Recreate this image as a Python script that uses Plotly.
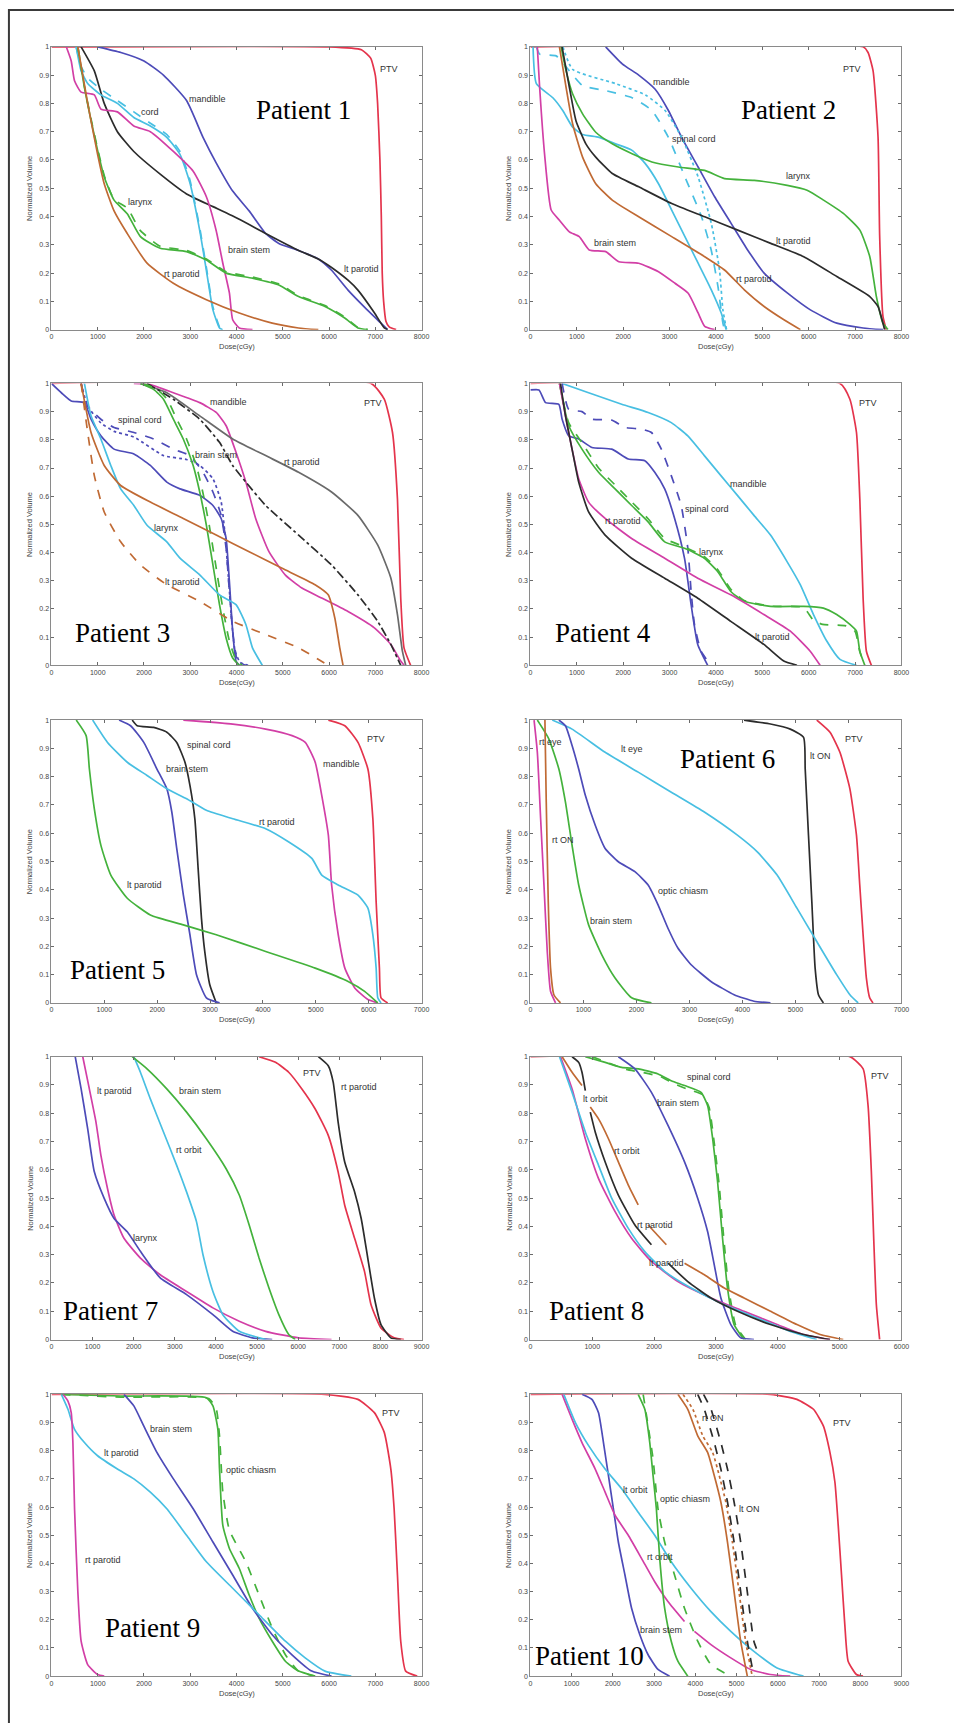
import plotly.graph_objects as go

# ---------------------------------------------------------------------------
# Dose-volume histograms: (dose in cGy, normalized volume) per structure
# ---------------------------------------------------------------------------

# Patient 1
P1_PTV = ([0, 6000, 6700, 6900, 7000, 7050, 7100, 7130, 7150, 7180, 7230, 7300, 7450],
          [1, 1, 0.99, 0.96, 0.9, 0.8, 0.6, 0.4, 0.2, 0.1, 0.03, 0.01, 0])
P1_MANDIBLE = ([1000, 1500, 2000, 2420, 2920, 3276, 3560, 3917, 4273, 4630, 4915, 5342, 5769, 6054, 6410, 6766, 7123, 7265],
               [1, 0.98, 0.95, 0.9, 0.81, 0.68, 0.59, 0.49, 0.42, 0.34, 0.305, 0.28, 0.25, 0.21, 0.14, 0.08, 0.023, 0])
P1_LT_PAROTID = ([641, 926, 1140, 1425, 1780, 2350, 2920, 3490, 4060, 4630, 5342, 5769, 6054, 6410, 6624, 6980, 7194, 7265],
                 [1, 0.915, 0.80, 0.70, 0.63, 0.55, 0.48, 0.435, 0.39, 0.34, 0.28, 0.25, 0.22, 0.175, 0.14, 0.06, 0.006, 0])
P1_CORD_A = ([534, 641, 783, 1068, 1425, 1780, 2137, 2493, 2778, 2991, 3205, 3348, 3490, 3632, 3700],
             [1, 0.915, 0.87, 0.83, 0.80, 0.75, 0.72, 0.68, 0.62, 0.52, 0.35, 0.21, 0.07, 0.006, 0])
P1_CORD_B = ([534, 641, 783, 1068, 1425, 1780, 2137, 2493, 2778, 2991, 3205, 3348, 3490, 3632, 3700],
             [1, 0.93, 0.89, 0.85, 0.81, 0.77, 0.73, 0.69, 0.63, 0.53, 0.36, 0.22, 0.08, 0.01, 0])
P1_BRAIN_STEM = ([320, 427, 498, 641, 926, 1068, 1425, 1780, 2137, 2635, 3063, 3348, 3561, 3704, 3846, 3917, 4060, 4345],
                 [1, 0.95, 0.88, 0.84, 0.83, 0.78, 0.77, 0.72, 0.70, 0.63, 0.56, 0.47, 0.35, 0.235, 0.13, 0.035, 0.006, 0])
P1_LARYNX_A = ([570, 712, 855, 997, 1140, 1353, 1638, 1923, 2350, 2920, 3348, 3775, 4345, 4915, 5342, 5912, 6339, 6624, 6838],
               [1, 0.857, 0.74, 0.634, 0.54, 0.458, 0.41, 0.329, 0.288, 0.276, 0.246, 0.2, 0.182, 0.158, 0.117, 0.082, 0.041, 0.006, 0])
P1_LARYNX_B = ([570, 712, 855, 997, 1140, 1353, 1638, 1923, 2350, 2920, 3348, 3775, 4345, 4915, 5342, 5912, 6339, 6624, 6838],
               [1, 0.86, 0.745, 0.64, 0.545, 0.46, 0.43, 0.35, 0.295, 0.28, 0.25, 0.205, 0.186, 0.162, 0.12, 0.085, 0.045, 0.008, 0])
P1_RT_PAROTID = ([570, 783, 997, 1140, 1353, 1638, 2066, 2635, 3348, 4060, 4772, 5342, 5769],
                 [1, 0.8, 0.62, 0.516, 0.42, 0.34, 0.235, 0.164, 0.106, 0.059, 0.023, 0.006, 0])

# Patient 2
P2_PTV = ([0, 7174, 7280, 7388, 7495, 7530, 7601, 7673],
          [1, 1, 0.98, 0.915, 0.68, 0.33, 0.047, 0])
P2_MANDIBLE = ([1623, 1979, 2335, 2690, 2975, 3260, 3616, 3972, 4327, 4683, 5039, 5537, 6036, 6605, 7174, 7601],
               [1, 0.94, 0.9, 0.85, 0.775, 0.68, 0.575, 0.47, 0.376, 0.282, 0.2, 0.13, 0.07, 0.023, 0.006, 0])
P2_CORD_A = ([57, 128, 484, 697, 911, 1125, 1480, 1836, 2192, 2477, 2762, 3046, 3331, 3616, 3900, 4114, 4221],
             [1, 0.87, 0.82, 0.775, 0.716, 0.69, 0.68, 0.657, 0.634, 0.587, 0.516, 0.423, 0.329, 0.235, 0.141, 0.059, 0])
P2_CORD_B = ([128, 199, 555, 840, 1125, 1623, 2192, 2619, 2975, 3331, 3687, 3900, 4043, 4150, 4185],
             [1, 0.974, 0.968, 0.915, 0.863, 0.845, 0.82, 0.775, 0.68, 0.54, 0.4, 0.28, 0.153, 0.023, 0])
P2_CORD_C = ([700, 911, 1836, 2477, 2904, 3260, 3616, 3900, 4078, 4150, 4230],
             [1, 0.92, 0.87, 0.83, 0.775, 0.68, 0.54, 0.376, 0.21, 0.07, 0])
P2_LARYNX = ([662, 769, 911, 1125, 1409, 1765, 2192, 2619, 3189, 3758, 4185, 4826, 5537, 5965, 6320, 6747, 7103, 7317, 7459, 7601, 7708],
             [1, 0.915, 0.833, 0.763, 0.698, 0.657, 0.622, 0.593, 0.575, 0.563, 0.534, 0.528, 0.51, 0.493, 0.458, 0.411, 0.352, 0.258, 0.117, 0.023, 0])
P2_LT_PAROTID = ([683, 840, 982, 1196, 1409, 1765, 2335, 3046, 3758, 4470, 5182, 5893, 6605, 7317, 7495, 7601, 7637],
                 [1, 0.857, 0.739, 0.657, 0.61, 0.552, 0.505, 0.446, 0.399, 0.352, 0.305, 0.258, 0.188, 0.117, 0.082, 0.023, 0])
P2_RT_PAROTID = ([626, 769, 911, 1125, 1409, 1765, 2335, 3046, 3758, 4185, 4612, 5039, 5466, 5822],
                 [1, 0.857, 0.727, 0.61, 0.516, 0.458, 0.399, 0.329, 0.258, 0.211, 0.141, 0.082, 0.035, 0])
P2_BRAIN_STEM = ([149, 199, 306, 448, 626, 840, 1053, 1267, 1623, 1907, 2335, 2762, 3117, 3402, 3616, 3758, 3972],
                 [1, 0.857, 0.62, 0.423, 0.387, 0.346, 0.329, 0.282, 0.276, 0.24, 0.235, 0.205, 0.164, 0.129, 0.059, 0.012, 0])

# Patient 3
P3_PTV = ([0, 6909, 7194, 7372, 7479, 7550, 7621, 7764],
          [1, 1, 0.944, 0.826, 0.59, 0.238, 0.062, 0])
P3_MANDIBLE = ([1781, 2137, 2635, 3205, 3561, 3775, 3989, 4202, 4416, 4701, 5057, 5413, 5840, 6410, 6980, 7336, 7550, 7621],
               [1, 0.996, 0.967, 0.932, 0.897, 0.85, 0.756, 0.65, 0.52, 0.403, 0.32, 0.274, 0.239, 0.191, 0.133, 0.074, 0.015, 0])
P3_RT_PAROTID_A = ([1923, 2493, 3205, 3917, 4630, 5342, 6054, 6624, 7051, 7336, 7479, 7586, 7657],
                   [1, 0.967, 0.885, 0.803, 0.744, 0.685, 0.615, 0.532, 0.427, 0.31, 0.18, 0.05, 0])
P3_RT_PAROTID_B = ([2066, 2635, 3205, 3632, 3917, 4202, 4630, 5342, 6054, 6624, 7051, 7336, 7550],
                   [1, 0.944, 0.873, 0.791, 0.709, 0.65, 0.567, 0.462, 0.356, 0.25, 0.156, 0.074, 0])
P3_CORD_A = ([641, 783, 1068, 1353, 1781, 2208, 2635, 2991, 3276, 3490, 3668, 3775, 3846, 3917, 4024, 4202],
             [1, 0.92, 0.873, 0.844, 0.826, 0.803, 0.767, 0.744, 0.685, 0.615, 0.532, 0.415, 0.262, 0.121, 0.015, 0])
P3_CORD_B = ([641, 783, 1068, 1353, 1781, 2422, 2920, 3205, 3490, 3668, 3760, 3830, 3900, 3970, 4080, 4250],
             [1, 0.92, 0.86, 0.83, 0.81, 0.744, 0.73, 0.709, 0.662, 0.58, 0.45, 0.3, 0.15, 0.05, 0.01, 0])
P3_CORD_C = ([0, 214, 427, 712, 855, 1068, 1353, 1781, 2137, 2493, 2778, 3205, 3490, 3668, 3775, 3846, 3917, 3989, 4060],
             [1, 0.967, 0.938, 0.932, 0.873, 0.814, 0.767, 0.75, 0.709, 0.65, 0.626, 0.603, 0.567, 0.521, 0.45, 0.297, 0.121, 0.015, 0])
P3_BRAIN_STEM_A = ([1923, 2208, 2422, 2635, 2849, 3063, 3205, 3348, 3490, 3632, 3775, 3917, 4060],
                   [1, 0.979, 0.944, 0.873, 0.803, 0.709, 0.615, 0.497, 0.356, 0.215, 0.097, 0.026, 0])
P3_BRAIN_STEM_B = ([1990, 2280, 2500, 2710, 2920, 3130, 3270, 3410, 3550, 3690, 3830, 3970, 4120],
                   [1, 0.979, 0.944, 0.873, 0.803, 0.709, 0.615, 0.497, 0.356, 0.215, 0.097, 0.026, 0])
P3_LARYNX = ([712, 855, 1068, 1282, 1496, 1781, 2066, 2493, 2778, 3205, 3632, 3989, 4202, 4345, 4558],
             [1, 0.885, 0.803, 0.709, 0.626, 0.567, 0.497, 0.438, 0.38, 0.321, 0.25, 0.215, 0.145, 0.062, 0])
P3_LT_PAROTID_A = ([641, 783, 926, 1140, 1496, 1923, 2493, 3205, 3917, 4630, 5342, 5983],
                   [1, 0.826, 0.673, 0.544, 0.438, 0.356, 0.286, 0.227, 0.156, 0.109, 0.062, 0])
P3_LT_PAROTID_B = ([641, 855, 1140, 1496, 2137, 2849, 3561, 4273, 4986, 5698, 5983, 6125, 6232, 6303],
                   [1, 0.826, 0.709, 0.638, 0.579, 0.521, 0.462, 0.403, 0.344, 0.286, 0.25, 0.168, 0.062, 0])

# Patient 4
P4_PTV = ([0, 6674, 6888, 7030, 7102, 7173, 7244, 7351],
          [1, 1, 0.944, 0.826, 0.59, 0.238, 0.05, 0])
P4_MANDIBLE = ([684, 1255, 1968, 2538, 3037, 3394, 3750, 4107, 4463, 4820, 5176, 5533, 5818, 6103, 6389, 6674, 7030],
               [1, 0.967, 0.926, 0.897, 0.861, 0.814, 0.744, 0.673, 0.603, 0.532, 0.462, 0.368, 0.286, 0.18, 0.086, 0.021, 0])
P4_CORD_A = ([684, 827, 1112, 1326, 1754, 2039, 2396, 2610, 2823, 3037, 3251, 3394, 3465, 3537, 3679, 3893],
             [1, 0.908, 0.9, 0.873, 0.87, 0.844, 0.838, 0.826, 0.767, 0.673, 0.567, 0.415, 0.262, 0.145, 0.05, 0])
P4_CORD_B = ([0, 185, 328, 613, 684, 827, 1041, 1326, 1754, 2111, 2467, 2681, 2895, 3109, 3322, 3465, 3608, 3822],
             [0.977, 0.977, 0.932, 0.926, 0.873, 0.814, 0.803, 0.773, 0.767, 0.732, 0.726, 0.685, 0.626, 0.521, 0.38, 0.215, 0.074, 0])
P4_LARYNX_A = ([627, 827, 1112, 1469, 1825, 2182, 2538, 2895, 3322, 3750, 4036, 4321, 4606, 5176, 5890, 6317, 6603, 6888, 7030, 7102, 7209],
               [1, 0.85, 0.767, 0.685, 0.626, 0.567, 0.509, 0.438, 0.415, 0.38, 0.333, 0.262, 0.227, 0.209, 0.209, 0.203, 0.18, 0.145, 0.121, 0.05, 0])
P4_LARYNX_B = ([627, 827, 1112, 1469, 1825, 2182, 2538, 2895, 3322, 3750, 4036, 4321, 4606, 5176, 5890, 6100, 6300, 6800, 7000, 7100, 7200],
               [1, 0.86, 0.79, 0.7, 0.64, 0.58, 0.52, 0.45, 0.42, 0.385, 0.34, 0.27, 0.23, 0.21, 0.205, 0.16, 0.145, 0.14, 0.12, 0.05, 0])
P4_RT_PAROTID = ([627, 756, 898, 1041, 1255, 1611, 2182, 2895, 3608, 4321, 5034, 5604, 6032, 6246],
                 [1, 0.885, 0.767, 0.662, 0.579, 0.521, 0.45, 0.38, 0.309, 0.25, 0.18, 0.121, 0.05, 0])
P4_LT_PAROTID = ([649, 756, 898, 1041, 1255, 1611, 2182, 2895, 3608, 4321, 5034, 5462, 5747],
                 [1, 0.885, 0.767, 0.65, 0.544, 0.462, 0.38, 0.309, 0.238, 0.156, 0.074, 0.015, 0])

# Patient 5
P5_PTV = ([5237, 5549, 5798, 5985, 6079, 6141, 6203, 6234, 6359],
          [1, 0.98, 0.921, 0.827, 0.651, 0.358, 0.123, 0.018, 0])
P5_MANDIBLE = ([2494, 3429, 4052, 4551, 4800, 4988, 5112, 5237, 5299, 5424, 5549, 5736, 5985, 6172],
               [1, 0.986, 0.968, 0.945, 0.921, 0.851, 0.734, 0.593, 0.417, 0.241, 0.123, 0.053, 0.012, 0])
P5_SPINAL_CORD = ([1527, 1621, 1933, 2182, 2369, 2525, 2619, 2712, 2774, 2837, 2899, 2993, 3117],
                  [1, 0.98, 0.974, 0.957, 0.921, 0.851, 0.769, 0.651, 0.475, 0.299, 0.182, 0.065, 0])
P5_BRAIN_STEM = ([1278, 1496, 1746, 1995, 2182, 2276, 2369, 2494, 2619, 2743, 2930, 3180],
                 [1, 0.98, 0.921, 0.827, 0.757, 0.675, 0.546, 0.382, 0.241, 0.1, 0.018, 0])
P5_RT_PAROTID = ([779, 1060, 1434, 1808, 2182, 2556, 2930, 3429, 4052, 4489, 4925, 5112, 5424, 5798, 5985, 6079, 6141, 6172, 6234],
                 [1, 0.921, 0.851, 0.804, 0.757, 0.722, 0.681, 0.651, 0.616, 0.569, 0.511, 0.452, 0.417, 0.381, 0.335, 0.241, 0.123, 0.018, 0])
P5_LT_PAROTID = ([468, 655, 717, 810, 935, 1122, 1434, 1870, 2494, 3117, 4052, 4988, 5611, 5923, 6172],
                 [1, 0.945, 0.827, 0.687, 0.557, 0.452, 0.37, 0.311, 0.276, 0.241, 0.182, 0.123, 0.076, 0.041, 0])

# Patient 6
P6_PTV = ([5402, 5652, 5839, 6027, 6151, 6213, 6276, 6338, 6401, 6463],
          [1, 0.957, 0.886, 0.757, 0.593, 0.417, 0.241, 0.088, 0.018, 0])
P6_LT_ON = ([4030, 4529, 4903, 5153, 5184, 5246, 5309, 5371, 5434, 5527],
            [1, 0.986, 0.968, 0.939, 0.827, 0.593, 0.358, 0.123, 0.029, 0])
P6_LT_EYE = ([412, 786, 1410, 2034, 2658, 3281, 3905, 4280, 4654, 5028, 5402, 5777, 6027, 6183],
             [1, 0.968, 0.886, 0.816, 0.745, 0.675, 0.593, 0.534, 0.452, 0.335, 0.217, 0.1, 0.029, 0])
P6_OPTIC_CHIASM = ([537, 661, 786, 911, 1036, 1223, 1410, 1659, 1971, 2221, 2408, 2595, 2782, 3032, 3406, 3843, 4217, 4529],
                   [1, 0.98, 0.91, 0.827, 0.734, 0.628, 0.546, 0.499, 0.464, 0.417, 0.347, 0.264, 0.194, 0.135, 0.076, 0.029, 0.006, 0])
P6_BRAIN_STEM = ([131, 349, 537, 661, 786, 911, 1098, 1347, 1597, 1909, 2283],
                 [1, 0.933, 0.827, 0.71, 0.557, 0.417, 0.276, 0.17, 0.088, 0.018, 0])
P6_RT_ON = ([274, 299, 337, 380, 443, 568],
            [1, 0.71, 0.358, 0.123, 0.029, 0])
P6_RT_EYE = ([69, 131, 193, 256, 318, 380, 474],
             [1, 0.886, 0.651, 0.417, 0.182, 0.041, 0])

# Patient 7
P7_LT_PAROTID = ([761, 921, 1082, 1202, 1362, 1522, 1763, 2163, 2644, 3285, 3926, 4567, 5208, 6010, 6811],
                 [1, 0.886, 0.769, 0.651, 0.534, 0.44, 0.358, 0.288, 0.229, 0.17, 0.112, 0.065, 0.029, 0.006, 0])
P7_LARYNX = ([577, 721, 881, 1042, 1282, 1522, 1843, 2163, 2644, 3285, 3926, 4407, 4888, 5369],
             [1, 0.886, 0.745, 0.593, 0.499, 0.428, 0.381, 0.312, 0.218, 0.159, 0.088, 0.029, 0.006, 0])
P7_RT_ORBIT = ([2003, 2163, 2404, 2724, 3045, 3285, 3526, 3686, 3926, 4167, 4567, 5208],
               [1, 0.945, 0.851, 0.734, 0.616, 0.522, 0.417, 0.299, 0.17, 0.088, 0.029, 0])
P7_BRAIN_STEM = ([1963, 2324, 2804, 3285, 3766, 4247, 4567, 4808, 5048, 5289, 5529, 5769, 5929],
                 [1, 0.957, 0.886, 0.804, 0.71, 0.604, 0.511, 0.405, 0.288, 0.182, 0.088, 0.018, 0])
P7_PTV = ([5048, 5449, 5769, 6090, 6410, 6731, 6971, 7131, 7372, 7612, 7772, 8013, 8333, 8574],
          [1, 0.98, 0.945, 0.886, 0.816, 0.722, 0.593, 0.475, 0.358, 0.241, 0.123, 0.041, 0.006, 0])
P7_RT_PAROTID = ([6490, 6731, 6851, 6971, 7131, 7372, 7532, 7692, 7853, 8013, 8253, 8494],
                 [1, 0.968, 0.91, 0.769, 0.628, 0.522, 0.428, 0.288, 0.147, 0.053, 0.006, 0])

# Patient 8 (gaps where the curves pass under their labels)
P8_PTV = ([0, 5166, 5380, 5460, 5513, 5551, 5594, 5647],
          [1, 1, 0.957, 0.827, 0.593, 0.358, 0.123, 0])
P8_SPINAL_CORD_A = ([888, 1209, 1476, 1743, 2064, 2278, 2492, 2759, 2866, 2947, 3027, 3107, 3187, 3294, 3454],
                    [1, 0.98, 0.962, 0.957, 0.939, 0.915, 0.898, 0.874, 0.827, 0.71, 0.557, 0.358, 0.182, 0.053, 0])
P8_SPINAL_CORD_B = ([1000, 1300, 1550, 1800, 2100, 2320, 2540, 2790, 2890, 2970, 3050, 3130, 3210, 3320, 3480],
                    [1, 0.975, 0.955, 0.945, 0.93, 0.905, 0.885, 0.865, 0.82, 0.70, 0.55, 0.35, 0.175, 0.05, 0])
P8_BRAIN_STEM = ([1422, 1690, 1957, 2225, 2492, 2706, 2866, 2973, 3080, 3241, 3401, 3615],
                 [1, 0.957, 0.874, 0.757, 0.628, 0.499, 0.381, 0.264, 0.147, 0.053, 0.006, 0])
P8_LT_ORBIT = ([674, 781, 834, 888, None, 968, 1048, 1209, 1422, 1690, 1957, None, 2225, 2545, 2920, 3348, 3882, 4417, 4845],
               [1, 0.98, 0.945, 0.88, None, 0.804, 0.734, 0.628, 0.511, 0.405, 0.335, None, 0.27, 0.205, 0.147, 0.1, 0.053, 0.018, 0])
P8_RT_ORBIT = ([513, 674, 834, None, 968, 1102, 1262, 1422, 1583, 1743, None, 1904, 2198, None, 2492, 2813, 3134, 3455, 3882, 4310, 4684, 5059],
               [1, 0.945, 0.898, None, 0.822, 0.78, 0.71, 0.628, 0.546, 0.476, None, 0.405, 0.335, None, 0.27, 0.229, 0.182, 0.147, 0.1, 0.053, 0.018, 0])
P8_RT_PAROTID = ([487, 674, 888, 1102, 1369, 1636, 1957, 2385, 2920, 3455, 3989, 4417, 4845],
                 [1, 0.886, 0.71, 0.569, 0.452, 0.358, 0.276, 0.205, 0.147, 0.1, 0.053, 0.018, 0])
P8_LT_PAROTID = ([471, 674, 888, 1102, 1316, 1583, 1850, 2171, 2599, 3134, 3668, 4203, 4631],
                 [1, 0.874, 0.734, 0.616, 0.499, 0.393, 0.311, 0.241, 0.182, 0.123, 0.076, 0.029, 0])

# Patient 9
P9_PTV = ([0, 5912, 6624, 6980, 7194, 7336, 7407, 7479, 7550, 7657, 7906],
          [1, 1, 0.982, 0.935, 0.865, 0.735, 0.594, 0.359, 0.124, 0.018, 0])
P9_OPTIC_CHIASM_A = ([214, 1500, 3348, 3490, 3597, 3632, 3704, 3846, 4060, 4273, 4487, 4772, 5057, 5342, 5698],
                     [1, 0.994, 0.988, 0.959, 0.876, 0.735, 0.535, 0.453, 0.382, 0.288, 0.206, 0.124, 0.053, 0.018, 0])
P9_OPTIC_CHIASM_B = ([214, 1500, 3400, 3560, 3632, 3704, 3846, 4202, 4487, 4772, 5057, 5342, 5698],
                     [1, 0.99, 0.985, 0.95, 0.853, 0.653, 0.518, 0.406, 0.288, 0.171, 0.076, 0.018, 0])
P9_BRAIN_STEM = ([1567, 1781, 1994, 2279, 2635, 3063, 3490, 3917, 4345, 4772, 5199, 5627, 6054],
                 [1, 0.959, 0.888, 0.794, 0.7, 0.594, 0.476, 0.359, 0.241, 0.147, 0.076, 0.018, 0])
P9_LT_PAROTID = ([214, 356, 499, 712, 997, 1425, 1781, 2137, 2493, 2920, 3348, 3917, 4487, 5057, 5484, 5912, 6481],
                 [1, 0.947, 0.876, 0.829, 0.782, 0.735, 0.7, 0.653, 0.594, 0.5, 0.406, 0.312, 0.218, 0.124, 0.065, 0.018, 0])
P9_RT_PAROTID = ([249, 356, 427, 463, 499, 570, 641, 783, 997, 1140],
                 [1, 0.976, 0.935, 0.829, 0.594, 0.3, 0.124, 0.041, 0.006, 0])

# Patient 10
P10_PTV = ([0, 5822, 6464, 6865, 7105, 7265, 7386, 7466, 7546, 7626, 7706, 7907, 8067],
           [1, 1, 0.982, 0.947, 0.888, 0.794, 0.688, 0.535, 0.359, 0.182, 0.053, 0.006, 0])
P10_LT_ORBIT_B = ([1251, 1492, 1652, 1772, 1892, 2013, 2133, 2293, 2454, 2654, 2855, 3095, 3376],
                  [1, 0.982, 0.935, 0.829, 0.712, 0.594, 0.476, 0.359, 0.241, 0.147, 0.076, 0.024, 0])
P10_BRAIN_STEM = ([770, 1010, 1251, 1572, 1812, 2053, 2374, 2695, 3015, 3336, 3737, None, 3978, 4379, 4860, 5341, 5822, 6303],
                  [1, 0.912, 0.829, 0.735, 0.653, 0.571, 0.5, 0.418, 0.335, 0.265, 0.194, None, 0.159, 0.112, 0.065, 0.024, 0.006, 0])
P10_RT_ORBIT = ([810, 1091, 1411, 1812, 2213, 2614, 3015, 3416, 3897, 4379, 4860, 5421, 5982, 6624],
                [1, 0.9, 0.818, 0.735, 0.665, 0.582, 0.5, 0.406, 0.312, 0.229, 0.159, 0.088, 0.029, 0])
P10_OPTIC_CHIASM_A = ([2614, 2775, 2895, 2975, 3055, 3136, 3256, 3416, 3577, 3817],
                      [1, 0.947, 0.829, 0.712, 0.594, 0.418, 0.241, 0.124, 0.053, 0])
P10_OPTIC_CHIASM_B = ([2735, 2855, 2975, 3095, 3256, 3496, 3737, 4058, 4379, 4860],
                      [1, 0.888, 0.771, 0.594, 0.476, 0.359, 0.241, 0.124, 0.041, 0])
P10_RT_ON_A = ([3577, 3817, 4058, 4298, 4459, 4619, 4780, 4940, 5100, 5261],
               [1, 0.947, 0.853, 0.794, 0.712, 0.618, 0.476, 0.3, 0.124, 0])
P10_RT_ON_B = ([3700, 3940, 4180, 4420, 4580, 4740, 4900, 5060, 5220, 5380],
               [1, 0.947, 0.853, 0.794, 0.712, 0.618, 0.476, 0.3, 0.124, 0])
P10_LT_ON_A = ([4058, 4218, 4459, 4619, 4780, 4940, 5100, 5261, 5421],
               [1, 0.947, 0.829, 0.735, 0.618, 0.476, 0.3, 0.124, 0])
P10_LT_ON_B = ([4200, 4380, 4620, 4780, 4940, 5100, 5260, 5420, 5560],
               [1, 0.947, 0.829, 0.735, 0.618, 0.476, 0.3, 0.124, 0.07])

# Axis extents (max dose shown per patient)
DOSE_MAX = [8000, 8000, 8000, 8000, 7000, 7000, 9000, 6000, 8000, 9000]
VOLUME_TICKS = [0, 0.1, 0.2, 0.3, 0.4, 0.5, 0.6, 0.7, 0.8, 0.9, 1]
VOLUME_TICK_TEXT = ["0", "0.1", "0.2", "0.3", "0.4", "0.5", "0.6", "0.7", "0.8", "0.9", "1"]
PATIENTS = ["Patient 1", "Patient 2", "Patient 3", "Patient 4", "Patient 5",
            "Patient 6", "Patient 7", "Patient 8", "Patient 9", "Patient 10"]

# ---------------------------------------------------------------------------
# Styling
# ---------------------------------------------------------------------------
RED = "#e4344c"
MAG = "#d23fa6"
BLUE = "#4d4bb8"
CYAN = "#48bfe2"
GREEN = "#44b23c"
BROWN = "#c06a34"
BLACK = "#2c2c2c"
GRAY = "#6a6a6a"

panels = [
    dict(curves=[(P1_PTV, RED, "solid"), (P1_MANDIBLE, BLUE, "solid"), (P1_LT_PAROTID, BLACK, "solid"),
                 (P1_CORD_A, CYAN, "solid"), (P1_CORD_B, CYAN, "dash"), (P1_BRAIN_STEM, MAG, "solid"),
                 (P1_LARYNX_A, GREEN, "solid"), (P1_LARYNX_B, GREEN, "dash"), (P1_RT_PAROTID, BROWN, "solid")],
         labels=[("PTV", 7300, 0.92), ("mandible", 3383, 0.816), ("cord", 2137, 0.77), ("larynx", 1923, 0.45),
                 ("brain stem", 4273, 0.28), ("lt parotid", 6695, 0.215), ("rt parotid", 2813, 0.197)],
         title_at=(5449, 0.775)),
    dict(curves=[(P2_PTV, RED, "solid"), (P2_MANDIBLE, BLUE, "solid"), (P2_CORD_A, CYAN, "solid"),
                 (P2_CORD_B, CYAN, "dash"), (P2_CORD_C, CYAN, "dot"), (P2_LARYNX, GREEN, "solid"),
                 (P2_LT_PAROTID, BLACK, "solid"), (P2_RT_PAROTID, BROWN, "solid"), (P2_BRAIN_STEM, MAG, "solid")],
         labels=[("PTV", 6925, 0.92), ("mandible", 3046, 0.877), ("spinal cord", 3530, 0.675), ("larynx", 5772, 0.542),
                 ("lt parotid", 5679, 0.313), ("rt parotid", 4812, 0.18), ("brain stem", 1822, 0.306)],
         title_at=(5573, 0.777)),
    dict(curves=[(P3_PTV, RED, "solid"), (P3_MANDIBLE, MAG, "solid"), (P3_RT_PAROTID_A, GRAY, "solid"),
                 (P3_RT_PAROTID_B, BLACK, "dashdot"), (P3_CORD_A, BLUE, "dash"), (P3_CORD_B, BLUE, "dot"),
                 (P3_CORD_C, BLUE, "solid"), (P3_BRAIN_STEM_A, GREEN, "solid"), (P3_BRAIN_STEM_B, GREEN, "dash"),
                 (P3_LARYNX, CYAN, "solid"), (P3_LT_PAROTID_A, BROWN, "dash"), (P3_LT_PAROTID_B, BROWN, "solid")],
         labels=[("PTV", 6944, 0.93), ("mandible", 3832, 0.935), ("spinal cord", 1909, 0.871), ("brain stem", 3547, 0.746),
                 ("rt parotid", 5413, 0.72), ("larynx", 2493, 0.488), ("lt parotid", 2835, 0.295)],
         title_at=(1531, 0.115)),
    dict(curves=[(P4_PTV, RED, "solid"), (P4_MANDIBLE, CYAN, "solid"), (P4_CORD_A, BLUE, "dash"),
                 (P4_CORD_B, BLUE, "solid"), (P4_LARYNX_A, GREEN, "solid"), (P4_LARYNX_B, GREEN, "dash"),
                 (P4_RT_PAROTID, MAG, "solid"), (P4_LT_PAROTID, BLACK, "solid")],
         labels=[("PTV", 7280, 0.93), ("mandible", 4699, 0.642), ("spinal cord", 3808, 0.553), ("rt parotid", 2004, 0.512),
                 ("larynx", 3914, 0.403), ("lt parotid", 5212, 0.1)],
         title_at=(1575, 0.115)),
    dict(curves=[(P5_PTV, RED, "solid"), (P5_MANDIBLE, MAG, "solid"), (P5_SPINAL_CORD, BLACK, "solid"),
                 (P5_BRAIN_STEM, BLUE, "solid"), (P5_RT_PAROTID, CYAN, "solid"), (P5_LT_PAROTID, GREEN, "solid")],
         labels=[("PTV", 6141, 0.933), ("mandible", 5486, 0.845), ("spinal cord", 2980, 0.912), ("brain stem", 2556, 0.827),
                 ("rt parotid", 4271, 0.64), ("lt parotid", 1764, 0.417)],
         title_at=(1247, 0.117)),
    dict(curves=[(P6_PTV, RED, "solid"), (P6_LT_ON, BLACK, "solid"), (P6_LT_EYE, CYAN, "solid"),
                 (P6_OPTIC_CHIASM, BLUE, "solid"), (P6_BRAIN_STEM, GREEN, "solid"), (P6_RT_ON, BROWN, "solid"),
                 (P6_RT_EYE, MAG, "solid")],
         labels=[("PTV", 6107, 0.933), ("lt ON", 5465, 0.872), ("lt eye", 1909, 0.896), ("optic chiasm", 2888, 0.396),
                 ("brain stem", 1522, 0.291), ("rt ON", 611, 0.577), ("rt eye", 380, 0.924)],
         title_at=(3718, 0.863)),
    dict(curves=[(P7_LT_PAROTID, MAG, "solid"), (P7_LARYNX, BLUE, "solid"), (P7_RT_ORBIT, CYAN, "solid"),
                 (P7_BRAIN_STEM, GREEN, "solid"), (P7_PTV, RED, "solid"), (P7_RT_PAROTID, BLACK, "solid")],
         labels=[("lt parotid", 1522, 0.878), ("larynx", 2284, 0.358), ("rt orbit", 3349, 0.669), ("brain stem", 3606, 0.88),
                 ("PTV", 6330, 0.941), ("rt parotid", 7476, 0.894)],
         title_at=(1442, 0.1)),
    dict(curves=[(P8_PTV, RED, "solid"), (P8_SPINAL_CORD_A, GREEN, "solid"), (P8_SPINAL_CORD_B, GREEN, "dash"),
                 (P8_BRAIN_STEM, BLUE, "solid"), (P8_RT_PAROTID, MAG, "solid"), (P8_LT_PAROTID, CYAN, "solid"),
                 (P8_LT_ORBIT, BLACK, "solid"), (P8_RT_ORBIT, BROWN, "solid")],
         labels=[("PTV", 5658, 0.933), ("spinal cord", 2882, 0.927), ("brain stem", 2385, 0.836), ("lt orbit", 1048, 0.851),
                 ("rt orbit", 1567, 0.667), ("rt parotid", 2011, 0.405), ("lt parotid", 2198, 0.27)],
         title_at=(1075, 0.1)),
    dict(curves=[(P9_PTV, RED, "solid"), (P9_OPTIC_CHIASM_A, GREEN, "solid"), (P9_OPTIC_CHIASM_B, GREEN, "dash"),
                 (P9_BRAIN_STEM, BLUE, "solid"), (P9_LT_PAROTID, CYAN, "solid"), (P9_RT_PAROTID, MAG, "solid")],
         labels=[("PTV", 7336, 0.932), ("brain stem", 2578, 0.876), ("lt parotid", 1510, 0.793),
                 ("optic chiasm", 4323, 0.732), ("rt parotid", 1118, 0.411)],
         title_at=(2187, 0.171)),
    dict(curves=[(P10_PTV, RED, "solid"), (P10_LT_ORBIT_B, BLUE, "solid"), (P10_BRAIN_STEM, MAG, "solid"),
                 (P10_RT_ORBIT, CYAN, "solid"), (P10_OPTIC_CHIASM_A, GREEN, "solid"), (P10_OPTIC_CHIASM_B, GREEN, "dash"),
                 (P10_RT_ON_A, BROWN, "solid"), (P10_RT_ON_B, BROWN, "dot"), (P10_LT_ON_A, BLACK, "dash"),
                 (P10_LT_ON_B, BLACK, "dash")],
         labels=[("PTV", 7562, 0.9), ("rt ON", 4418, 0.915), ("lt ON", 5317, 0.592), ("lt orbit", 2558, 0.659),
                 ("optic chiasm", 3738, 0.627), ("rt orbit", 3135, 0.424), ("brain stem", 3160, 0.165)],
         title_at=(1427, 0.07)),
]

# ---------------------------------------------------------------------------
# Layout geometry (pixels on a 954 x 1723 page)
# ---------------------------------------------------------------------------
W, H = 954, 1723
COLS = [(50, 424), (534, 909)]
ROWS = [(43, 327), (381, 664), (719, 1003), (1057, 1341), (1396, 1679)]

fig = go.Figure()
annotations = []
layout_axes = {}

for i, p in enumerate(panels):
    r, c = divmod(i, 2)
    k = i + 1
    sfx = "" if k == 1 else str(k)
    xa, ya = "x" + sfx, "y" + sfx
    px0, px1 = COLS[c]
    py0, py1 = ROWS[r]
    xmax = DOSE_MAX[i]

    for (dose, vol), color, dash in p["curves"]:
        fig.add_trace(go.Scatter(x=dose, y=vol, mode="lines", xaxis=xa, yaxis=ya,
                                 line=dict(color=color, width=1.7, dash=dash, shape="spline", smoothing=0.5),
                                 connectgaps=False, showlegend=False, hoverinfo="skip"))

    axis_common = dict(showgrid=False, zeroline=False, showline=True, linecolor="#8a8a8a", linewidth=1,
                       mirror="ticks", ticks="inside", ticklen=3, tickcolor="#6a6a6a", tickwidth=1,
                       tickfont=dict(family="Liberation Sans, Arial", size=7, color="#444"))
    layout_axes["xaxis" + sfx] = dict(axis_common, domain=[px0 / W, px1 / W], anchor=ya,
                                      range=[0, xmax], tickvals=list(range(0, xmax + 1, 1000)))
    layout_axes["yaxis" + sfx] = dict(axis_common, domain=[1 - py1 / H, 1 - py0 / H], anchor=xa,
                                      range=[0, 1], tickvals=VOLUME_TICKS, ticktext=VOLUME_TICK_TEXT)

    for text, lx, ly in p["labels"]:
        annotations.append(dict(text=text, x=lx, y=ly, xref=xa, yref=ya, showarrow=False,
                                font=dict(family="Liberation Sans, Arial", size=9, color="#333")))
    tx, ty = p["title_at"]
    annotations.append(dict(text=PATIENTS[i], x=tx, y=ty, xref=xa, yref=ya, showarrow=False,
                            font=dict(family="Liberation Serif, Times New Roman", size=27, color="#000")))
    # axis titles
    annotations.append(dict(text="Dose(cGy)", x=(px0 + px1) / 2 / W, y=1 - (py1 + 17) / H,
                            xref="paper", yref="paper", showarrow=False, xanchor="center", yanchor="middle",
                            font=dict(family="Liberation Sans, Arial", size=7.5, color="#444")))
    annotations.append(dict(text="Normalized Volume", x=(px0 - 22) / W, y=1 - (py0 + py1) / 2 / H,
                            xref="paper", yref="paper", showarrow=False, textangle=-90,
                            xanchor="center", yanchor="middle",
                            font=dict(family="Liberation Sans, Arial", size=7.5, color="#444")))

fig.update_layout(
    width=W, height=H, margin=dict(l=0, r=0, t=0, b=0),
    paper_bgcolor="white", plot_bgcolor="white",
    annotations=annotations,
    shapes=[dict(type="rect", xref="paper", yref="paper", x0=7 / W, x1=1.01, y0=-0.01, y1=1 - 6 / H,
                 line=dict(color="#3a3a3a", width=2))],
    **layout_axes,
)

fig.write_html("out.html")
